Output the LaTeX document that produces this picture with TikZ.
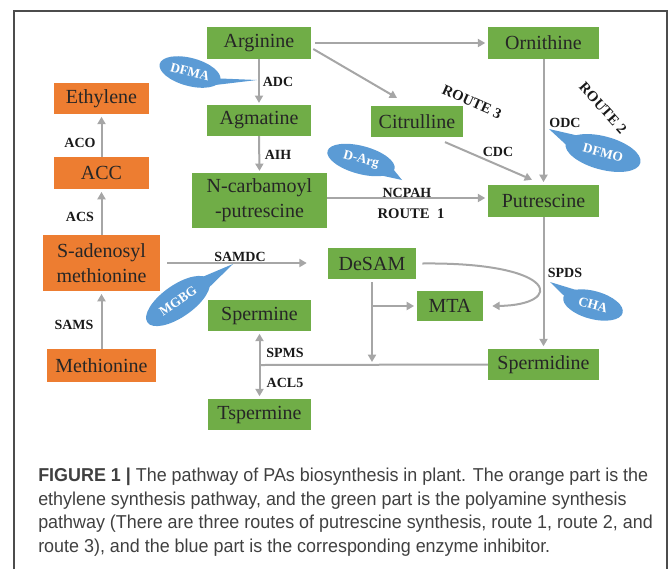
\documentclass[tikz,border=0pt]{standalone}
\usepackage{fontspec}
\setmainfont{Liberation Serif}
\newfontfamily\capfont[FakeStretch=0.96]{Liberation Sans}
\usetikzlibrary{arrows.meta,shapes.geometric,calc}
\definecolor{pgreen}{HTML}{70AD47}
\definecolor{porange}{HTML}{ED7D31}
\definecolor{pblue}{HTML}{5B9BD5}
\definecolor{agray}{HTML}{A6A6A6}
\definecolor{captext}{HTML}{404040}
\begin{document}
\begin{tikzpicture}[x=0.75pt,y=-0.75pt,
 gbox/.style={fill=pgreen, inner sep=0pt, font=\fontsize{15}{18.75}\selectfont, align=center, text=black!85},
 obox/.style={gbox, fill=porange},
 enz/.style={font=\fontsize{10.5}{12}\selectfont\bfseries, inner sep=0pt, text=black!90},
 routelbl/.style={font=\fontsize{11}{12}\selectfont\bfseries, inner sep=0pt, text=black!90},
 inhib/.style={ellipse, fill=pblue, text=white, inner sep=0pt, font=\fontsize{10}{12}\selectfont\bfseries},
 arr/.style={draw=agray, line width=1.5pt, -{Triangle[length=5.5pt,width=6pt]}},
 ln/.style={draw=agray, line width=1.5pt},
 captionline/.style={anchor=base west, inner sep=0pt, text=captext, font=\capfont\fontsize{14}{17}\selectfont},
]
\useasboundingbox (0,0) rectangle (670,569);
\draw[line width=1.2pt, color=black!70] (14,569) -- (14,11) -- (667,11) -- (667,569);

% green nodes
\node[gbox, minimum width=78pt, minimum height=24pt] (arg) at (259,43) {Arginine};
\node[gbox, minimum width=83pt, minimum height=24pt] (orn) at (543.5,43) {Ornithine};
\node[gbox, minimum width=78pt, minimum height=23pt] (agm) at (259,120.5) {Agmatine};
\node[gbox, minimum width=101pt, minimum height=41pt] (ncp) at (259.5,200.5) {N-carbamoyl\\-putrescine};
\node[gbox, minimum width=69pt, minimum height=23pt] (cit) at (417,121.5) {Citrulline};
\node[gbox, minimum width=83pt, minimum height=24pt] (put) at (543.5,201) {Putrescine};
\node[gbox, minimum width=66pt, minimum height=23pt] (desam) at (372,263.5) {DeSAM};
\node[gbox, minimum width=49.5pt, minimum height=22.5pt] (mta) at (450,306) {MTA};
\node[gbox, minimum width=77pt, minimum height=23pt] (spm) at (259.5,315.5) {Spermine};
\node[gbox, minimum width=83pt, minimum height=23pt] (spd) at (543.5,364.5) {Spermidine};
\node[gbox, minimum width=77pt, minimum height=23pt] (tsp) at (259.5,414.5) {Tspermine};

% orange nodes
\node[obox, minimum width=71pt, minimum height=23pt] (eth) at (101.5,98.5) {Ethylene};
\node[obox, minimum width=71pt, minimum height=24pt] (acc) at (101.5,173) {ACC};
\node[obox, minimum width=88pt, minimum height=42pt] (sam) at (101.5,263) {S-adenosyl\\methionine};
\node[obox, minimum width=82pt, minimum height=25pt] (met) at (101.5,365.5) {Methionine};

% arrows: ethylene pathway
\draw[arr, shorten >=2pt] (met.north) -- (sam.south);
\draw[arr, shorten >=2pt] (sam.north) -- (acc.south);
\draw[arr, shorten >=2pt] (acc.north) -- (eth.south);

% arrows: polyamine pathway
\draw[arr, shorten >=1.5pt] (arg.south) -- (agm.north);
\draw[arr, shorten >=1.5pt] (agm.south) -- (ncp.north);
\draw[arr, shorten <=3pt, shorten >=2pt] (arg.east) -- (orn.west);
\draw[arr] ($(arg.east)+(2,6)$) -- ($(cit.north)+(-20,-8)$);
\draw[arr] ($(cit.south)+(28,5)$) -- ($(put.north)+(-11.5,-5)$);
\draw[arr, shorten >=2pt] (orn.south) -- (put.north);
\draw[arr, shorten >=2pt] ($(ncp.east)+(0,-2.5)$) -- ($(put.west)+(0,-3)$);
\draw[arr, shorten >=2pt] (put.south) -- (spd.north);

\draw[arr] ($(sam.east)+(7,0)$) -- ($(desam.west)+(-21,-0.5)$);
\coordinate (dsend) at (372,362);
\draw[arr] ($(desam.south)+(0,3)$) -- (dsend);
\coordinate (br) at (372,306);
\draw[arr, shorten >=2pt] (br) -- (mta.west);
\draw[arr] ($(desam.east)+(6,0)$) .. controls (560,262) and (565,305) .. ($(mta.east)+(9,0)$);

\coordinate (j) at (259.5,365);
\draw[ln] (spd.west) -- (j);
\draw[arr, shorten >=2pt] (j) -- (spm.south);
\draw[arr, shorten >=2pt] (j) -- (tsp.north);

% enzyme labels
\node[enz] (aco) at (80,143) {ACO};
\node[enz] (acs) at (80,217) {ACS};
\node[enz] (sams) at (74,325) {SAMS};
\node[enz] (adc) at (278,82) {ADC};
\node[enz] (aih) at (278,155) {AIH};
\node[enz] (samdc) at (240,257) {SAMDC};
\node[enz] (spms) at (285,353) {SPMS};
\node[enz] (acl) at (285,383) {ACL5};
\node[enz] (ncpah) at (407,193) {NCPAH};
\node[routelbl] (r1) at (411,214) {ROUTE\ \ 1};
\node[enz] (cdc) at (498,152) {CDC};
\node[enz] (odc) at (565,123) {ODC};
\node[enz] (spds) at (565,273) {SPDS};
\node[routelbl, rotate=-24] (r3) at (472,102) {ROUTE 3};
\node[routelbl, rotate=-48] (r2) at (603,108) {ROUTE 2};

% inhibitors (callouts)
\node[inhib, rotate=-15, minimum width=47pt, minimum height=21pt] (dfma) at (190,72) {DFMA};
\coordinate (dfmatip) at (257,80);
\fill[pblue] ($(dfma.center)!0.9!(dfma.2)$) -- (dfmatip) -- ($(dfma.center)!0.9!(dfma.-24)$) -- cycle;

\node[inhib, rotate=-15, minimum width=52pt, minimum height=21pt] (darg) at (361,160) {D-Arg};
\coordinate (dargtip) at (402,180);
\fill[pblue] ($(darg.center)!0.9!(darg.2)$) -- (dargtip) -- ($(darg.center)!0.9!(darg.-26)$) -- cycle;

\node[inhib, rotate=-15, minimum width=58pt, minimum height=25pt] (dfmo) at (603,153) {DFMO};
\coordinate (dfmotip) at (549,129);
\fill[pblue] ($(dfmo.center)!0.9!(dfmo.158)$) -- (dfmotip) -- ($(dfmo.center)!0.9!(dfmo.186)$) -- cycle;

\node[inhib, rotate=-15, minimum width=46pt, minimum height=21pt] (cha) at (593,305) {CHA};
\coordinate (chatip) at (550,282);
\fill[pblue] ($(cha.center)!0.9!(cha.150)$) -- (chatip) -- ($(cha.center)!0.9!(cha.180)$) -- cycle;

\node[inhib, rotate=35, minimum width=56pt, minimum height=24pt] (mgbg) at (178,301) {MGBG};
\coordinate (mgbgtip) at (233,264);
\fill[pblue] ($(mgbg.center)!0.9!(mgbg.12)$) -- (mgbgtip) -- ($(mgbg.center)!0.9!(mgbg.-14)$) -- cycle;

% caption
\node[captionline] (cap1) at (38,481) {\textbf{FIGURE 1 |} The pathway of PAs biosynthesis in plant. The orange part is the};
\node[captionline] (cap2) at (38,505) {ethylene synthesis pathway, and the green part is the polyamine synthesis};
\node[captionline] (cap3) at (38,528.5) {pathway (There are three routes of putrescine synthesis, route 1, route 2, and};
\node[captionline] (cap4) at (38,552) {route 3), and the blue part is the corresponding enzyme inhibitor.};
\end{tikzpicture}
\end{document}
